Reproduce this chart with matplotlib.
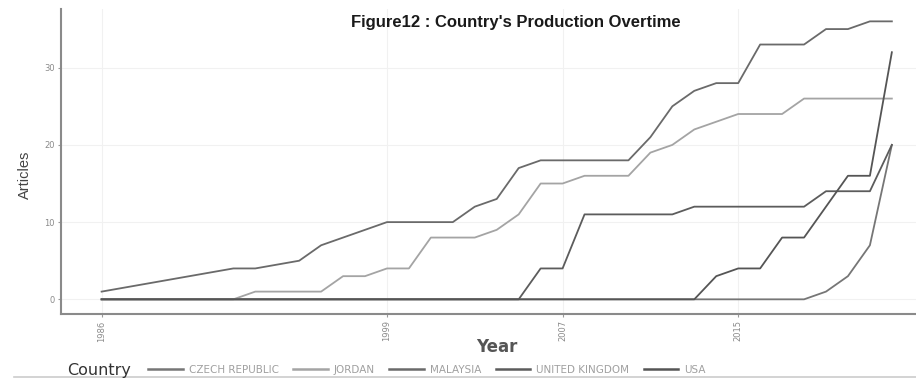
import matplotlib
matplotlib.use("Agg")
import matplotlib.pyplot as plt
from matplotlib.lines import Line2D

# ---- data ----
countries = ["CZECH REPUBLIC", "JORDAN", "MALAYSIA", "UNITED KINGDOM", "USA"]

years_malaysia = [1986, 1992, 1993, 1995, 1996, 1999, 2002, 2003, 2004, 2005, 2006,
                  2010, 2011, 2012, 2013, 2014, 2015, 2016, 2018, 2019, 2020, 2021, 2022]
vals_malaysia = [1, 4, 4, 5, 7, 10, 10, 12, 13, 17, 18,
                 18, 21, 25, 27, 28, 28, 33, 33, 35, 35, 36, 36]

years_jordan = [1986, 1992, 1993, 1996, 1997, 1998, 1999, 2000, 2001, 2003, 2004, 2005,
                2006, 2007, 2008, 2010, 2011, 2012, 2013, 2015, 2017, 2018, 2022]
vals_jordan = [0, 0, 1, 1, 3, 3, 4, 4, 8, 8, 9, 11,
               15, 15, 16, 16, 19, 20, 22, 24, 24, 26, 26]

years_uk = [1986, 2005, 2006, 2007, 2008, 2012, 2013, 2018, 2019, 2021, 2022]
vals_uk = [0, 0, 4, 4, 11, 11, 12, 12, 14, 14, 20]

years_usa = [1986, 2013, 2014, 2015, 2016, 2017, 2018, 2020, 2021, 2022]
vals_usa = [0, 0, 3, 4, 4, 8, 8, 16, 16, 32]

years_czech = [1986, 2018, 2019, 2020, 2021, 2022]
vals_czech = [0, 0, 1, 3, 7, 20]

series = {
    "CZECH REPUBLIC": (years_czech, vals_czech),
    "JORDAN": (years_jordan, vals_jordan),
    "MALAYSIA": (years_malaysia, vals_malaysia),
    "UNITED KINGDOM": (years_uk, vals_uk),
    "USA": (years_usa, vals_usa),
}
colors = {
    "CZECH REPUBLIC": "#767676",
    "JORDAN": "#a4a4a4",
    "MALAYSIA": "#6a6a6a",
    "UNITED KINGDOM": "#5c5c5c",
    "USA": "#555555",
}

x_ticks = [1986, 1999, 2007, 2015]
y_ticks = [0, 10, 20, 30]

# ---- figure ----
W, H = 916, 378
fig = plt.figure(figsize=(W / 100, H / 100), dpi=100)
ax = fig.add_axes([61 / W, 1 - 314 / H, (W - 61) / W, (314 - 9) / H])

handles = []
for c in countries:
    xs, ys = series[c]
    (ln,) = ax.plot(xs, ys, color=colors[c], lw=1.3, solid_joinstyle="round")
    handles.append(ln)

ax.set_xlim(1984.15, 2023.1)
ax.set_ylim(-1.9, 37.6)
ax.set_xticks(x_ticks)
ax.set_xticklabels([str(t) for t in x_ticks], rotation=90)
ax.set_yticks(y_ticks)
ax.tick_params(axis="both", labelsize=6, labelcolor="#8a8a8a", color="#9a9a9a",
               length=2.5, width=0.8, pad=2)
ax.grid(True, color="#f1f1f1", lw=0.8)
ax.set_axisbelow(True)
for s in ["top", "right"]:
    ax.spines[s].set_visible(False)
for s in ["left", "bottom"]:
    ax.spines[s].set_color("#8a8a8a")
    ax.spines[s].set_linewidth(1.5)

fig.text(516 / W, 1 - 22 / H, "Figure12 : Country's Production Overtime",
         ha="center", va="center", fontsize=12, fontweight="bold",
         family="Liberation Sans", color="#1a1a1a")
fig.text(25 / W, 1 - 175 / H, "Articles", rotation=90, ha="center", va="center",
         fontsize=10.5, color="#444444", family="Liberation Sans")
fig.text(497 / W, 1 - 347 / H, "Year", ha="center", va="center",
         fontsize=12, fontweight="bold", color="#555555")
fig.text(67 / W, 1 - 370 / H, "Country", ha="left", va="center",
         fontsize=11.5, color="#333333")

leg = fig.legend(handles, countries, loc="center left",
                 bbox_to_anchor=(148 / W, 1 - 370 / H), ncol=5, frameon=False,
                 fontsize=7.5, handlelength=3.35, handletextpad=0.58,
                 columnspacing=1.35, borderpad=0, borderaxespad=0)
for t in leg.get_texts():
    t.set_color("#a0a0a0")
for l in leg.get_lines():
    l.set_linewidth(1.8)

fig.add_artist(Line2D([14 / W, 1], [1.2 / H, 1.2 / H], color="#cccccc", lw=1.2))

fig.savefig("out.png", dpi=100)
